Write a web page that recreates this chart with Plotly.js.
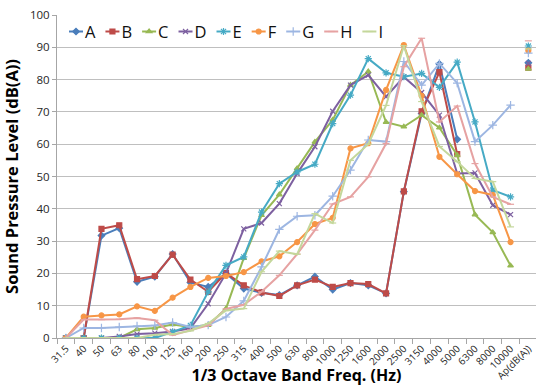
<!DOCTYPE html>
<html>
<head>
<meta charset="utf-8">
<script src="https://cdn.plot.ly/plotly-3.0.1.min.js"></script>
<style>
html,body{margin:0;padding:0;background:#fff;}
#chart{width:536px;height:386px;}
</style>
</head>
<body>
<div id="chart"></div>
<script>
// 1/3 octave band categories
var bands = ['31.5','40','50','63','80','100','125','160','200','250','315','400','500','630','800','1000','1250','1600','2000','2500','3150','4000','5000','6300','8000','10000'];
var apLabel = 'Ap(dB(A))';

// Series values (dB(A)) per band
var serA = [0,0,31.7,34.0,17.4,19.0,26.0,17.2,15.8,20.0,15.3,14.0,13.3,16.3,19.0,15.0,17.0,16.3,13.8,45.3,69.5,84.8,61.5,null,null,null];
var serB = [0,0,33.8,34.9,18.2,19.2,25.8,18.1,14.3,20.1,16.3,14.1,13.0,16.3,18.1,15.8,17.0,16.7,13.8,45.4,70.2,82.3,56.9,null,null,null];
var serC = [0,0,0,0,2.7,3.1,4.2,3.4,4.0,9.1,24.7,38.0,44.4,52.5,60.7,67.5,78.3,82.5,66.8,65.4,69.0,65.1,56.6,38.2,32.7,22.4];
var serD = [0,0,0,0.5,1.2,1.5,2.0,3.0,10.6,20.0,33.8,35.6,41.6,50.9,59.2,70.2,78.3,81.4,74.7,80.8,76.0,69.0,50.9,51.1,41.1,38.2];
var serE = [0,0,0,0,0,0,1.9,3.9,14.3,22.5,25.1,39.0,47.8,51.4,53.8,66.4,75.2,86.5,82.1,80.9,81.9,77.6,85.4,66.9,45.8,43.7];
var serF = [0,6.6,7.0,7.3,9.8,8.4,12.5,15.8,18.6,19.2,20.4,23.7,25.3,29.7,35.3,37.2,58.7,60.3,76.8,90.7,75.0,56.1,50.7,45.5,44.3,29.7];
var serG = [0,3.1,3.1,3.4,3.7,3.9,4.8,3.4,4.0,6.5,11.5,22.0,33.6,37.7,38.0,43.9,52.0,61.3,60.8,85.6,78.3,85.0,78.9,60.8,65.9,72.1];
var serH = [0,5.7,5.7,5.8,6.2,5.5,0.9,2.5,3.9,9.0,10.3,14.3,19.4,26.0,33.4,41.5,43.7,49.9,60.2,84.0,92.8,66.9,71.8,54.0,43.7,41.4];
var serI = [0,0,0,0,0,1.0,1.2,2.2,4.5,8.5,9.1,20.5,26.9,25.9,38.5,35.6,55.0,60.0,72.0,90.5,73.2,59.3,54.6,49.4,48.4,34.4];

// Overall A-weighted level per series
var apValues = [85.2,83.7,83.3,85.0,90.4,89.0,88.2,92.0,89.5];

var names = ['A','B','C','D','E','F','G','H','I'];
var colors = ['#4A7EBB','#BE4B48','#98B954','#7D60A0','#46AAC5','#F79646','#9DB6E2','#E6A2A2','#C4D79B'];
var symbols = ['diamond','square','triangle-up','x-thin-open','asterisk-open','circle','cross-thin-open','line-ew-open','line-ew-open'];
var sizes = [5,5,5,5,6,5,6,5,5];
var series = [serA,serB,serC,serD,serE,serF,serG,serH,serI];

var font = '"Open Sans", Lato, sans-serif';
var traces = [];
series.forEach(function(s,i){
  traces.push({
    type:'scatter', mode:'lines+markers', name:names[i],
    x:bands, y:s, connectgaps:false,
    line:{color:colors[i], width:2},
    marker:{symbol:symbols[i], size:sizes[i], color:colors[i], line:{color:colors[i], width:1.2}}
  });
});
series.forEach(function(s,i){
  traces.push({
    type:'scatter', mode:'markers', name:names[i]+' Ap', showlegend:false,
    x:[apLabel], y:[apValues[i]],
    marker:{symbol:symbols[i], size:sizes[i], color:colors[i], line:{color:colors[i], width:1.2}}
  });
});

var layout = {
  width:536, height:386,
  margin:{l:57, r:0, t:15, b:48},
  paper_bgcolor:'#ffffff', plot_bgcolor:'#ffffff',
  font:{family:font, color:'#262626'},
  showlegend:true,
  legend:{orientation:'h', x:0.02, y:0.99, xanchor:'left', yanchor:'top',
          bgcolor:'rgba(0,0,0,0)', borderwidth:0, font:{family:font, size:16.5, color:'#111'}, itemwidth:30},
  xaxis:{
    type:'category', categoryorder:'array', categoryarray:bands.concat([apLabel]),
    range:[-0.5, 26.43], tickangle:-45,
    tickfont:{family:font, size:10, color:'#262626'},
    showgrid:false, zeroline:false, showline:true, linecolor:'#a6a6a6', linewidth:1,
    ticks:'outside', tickson:'boundaries', ticklen:5, tickcolor:'#a6a6a6',
    title:{text:'1/3 Octave Band Freq. (Hz)', font:{family:font, size:16, color:'#000', weight:'bold'}}
  },
  yaxis:{
    range:[0,100], dtick:10, tick0:0,
    tickfont:{family:font, size:11.5, color:'#262626'},
    showgrid:true, gridcolor:'#bfbfbf', gridwidth:1, zeroline:false,
    showline:true, linecolor:'#a6a6a6', linewidth:1,
    ticks:'outside', ticklen:4, tickcolor:'#a6a6a6',
    title:{text:'Sound Pressure Level (dB(A))', font:{family:font, size:16.5, color:'#000', weight:'bold'}}
  }
};

Plotly.newPlot('chart', traces, layout, {staticPlot:true, displayModeBar:false}).then(function(gd){
  // compact legend layout like the original chart
  var leg = gd.querySelector('g.legend');
  if(!leg) return;
  leg.setAttribute('transform','translate(0,0)');
  var sb = leg.querySelector('g.scrollbox');
  if(sb){ sb.removeAttribute('clip-path'); sb.setAttribute('transform','translate(0,0)'); }
  var bg = leg.querySelector('rect.bg'); if(bg) bg.setAttribute('width',0);
  var items = leg.querySelectorAll('g.traces');
  var x = 69, yc = 31.5;
  items.forEach(function(g){
    var ln = g.querySelector('.legendlines path');
    if(ln) ln.setAttribute('d','M0,0h14');
    g.querySelectorAll('.legendsymbols path').forEach(function(p){ p.setAttribute('transform','translate(7,0)'); });
    var t = g.querySelector('text.legendtext');
    t.setAttribute('x', 16);
    var w = t.getComputedTextLength();
    g.setAttribute('transform','translate('+x+','+yc+')');
    x += 16 + w + 10;
  });
});
</script>
</body>
</html>
